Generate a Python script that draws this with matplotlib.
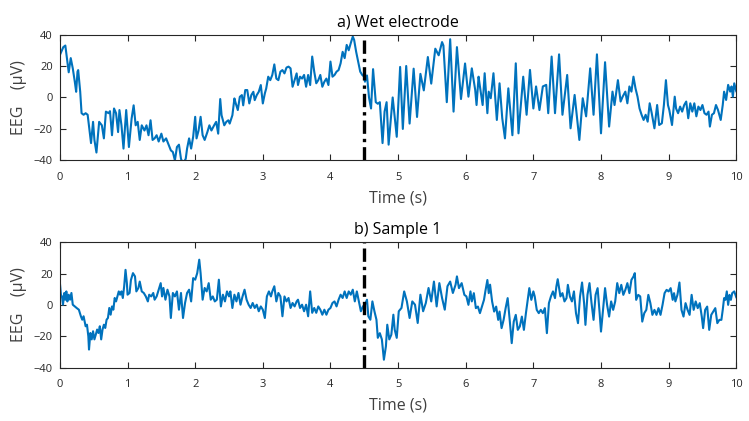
import matplotlib
matplotlib.use("Agg")
import matplotlib.pyplot as plt

# EEG traces, as (time, value) vertices
wet_t = [0.00, 0.05, 0.08, 0.11, 0.13, 0.16, 0.19, 0.22, 0.24, 0.26, 0.27, 0.30, 0.32, 0.35, 0.38,
         0.41, 0.44, 0.46, 0.49, 0.51, 0.54, 0.58, 0.62, 0.65, 0.68, 0.72, 0.74, 0.77, 0.80, 0.83,
         0.86, 0.88, 0.91, 0.94, 0.98, 1.00, 1.02, 1.06, 1.09, 1.12, 1.15, 1.18, 1.21, 1.25, 1.28,
         1.31, 1.34, 1.37, 1.40, 1.43, 1.46, 1.50, 1.53, 1.57, 1.61, 1.64, 1.67, 1.70, 1.73, 1.76,
         1.79, 1.82, 1.86, 1.88, 1.91, 1.94, 1.97, 2.00, 2.02, 2.05, 2.08, 2.11, 2.14, 2.18, 2.21,
         2.24, 2.28, 2.31, 2.34, 2.37, 2.39, 2.43, 2.46, 2.49, 2.51, 2.55, 2.58, 2.60, 2.63, 2.66,
         2.69, 2.71, 2.74, 2.77, 2.80, 2.83, 2.86, 2.88, 2.91, 2.94, 2.97, 3.00, 3.03, 3.05, 3.08,
         3.11, 3.14, 3.17, 3.20, 3.23, 3.26, 3.29, 3.32, 3.35, 3.38, 3.41, 3.44, 3.47, 3.50, 3.52,
         3.55, 3.58, 3.61, 3.64, 3.67, 3.70, 3.73, 3.76, 3.79, 3.82, 3.85, 3.88, 3.91, 3.94, 3.97,
         4.00, 4.03, 4.06, 4.09, 4.12, 4.15, 4.18, 4.21, 4.24, 4.27, 4.30, 4.33, 4.35, 4.38, 4.41,
         4.44, 4.47, 4.50, 4.51, 4.54, 4.57, 4.60, 4.63, 4.67, 4.70, 4.73, 4.77, 4.80, 4.83, 4.86,
         4.92, 4.98, 5.03, 5.07, 5.12, 5.17, 5.23, 5.28, 5.33, 5.38, 5.44, 5.49, 5.55, 5.60, 5.65,
         5.67, 5.72, 5.77, 5.82, 5.87, 5.93, 5.99, 6.04, 6.09, 6.14, 6.16, 6.19, 6.21, 6.25, 6.28,
         6.32, 6.34, 6.37, 6.41, 6.46, 6.50, 6.54, 6.58, 6.63, 6.69, 6.74, 6.78, 6.85, 6.90, 6.95,
         7.00, 7.04, 7.09, 7.14, 7.19, 7.22, 7.27, 7.32, 7.38, 7.43, 7.50, 7.55, 7.61, 7.68, 7.73,
         7.78, 7.84, 7.89, 7.94, 8.00, 8.06, 8.12, 8.17, 8.20, 8.25, 8.29, 8.32, 8.36, 8.39, 8.42,
         8.45, 8.48, 8.51, 8.54, 8.57, 8.60, 8.63, 8.66, 8.69, 8.72, 8.75, 8.79, 8.83, 8.86, 8.90,
         8.93, 8.96, 8.99, 9.01, 9.05, 9.09, 9.11, 9.14, 9.17, 9.20, 9.23, 9.26, 9.29, 9.32, 9.35,
         9.38, 9.41, 9.44, 9.47, 9.50, 9.53, 9.56, 9.59, 9.61, 9.64, 9.67, 9.70, 9.73, 9.77, 9.80,
         9.82, 9.85, 9.88, 9.91, 9.93, 9.95, 9.97, 10.00]
wet_v = [27, 32, 33, 23, 16, 25, 18.5, 10, 3.6, 16.4, 17.4, 3.6, -10, -11, -10,
         -11, -22, -29, -15.5, -27, -35, -15.5, -17.7, -26, -9, -10, -8.7, -24, -7, -10,
         -22, -8, -17.7, -32.5, -8, -20, -31.5, -13.4, -5, -17.7, -15.5, -27, -17.7, -21, -17.7,
         -24, -14.5, -27, -26, -24, -28, -23, -28, -26, -30.4, -33.6, -34.7, -40, -31.5, -30,
         -39, -42, -39, -32.5, -26, -32.5, -25, -12.3, -26, -21, -12.3, -24, -27, -22, -17.7,
         -21, -17.7, -15.5, -23, -1, -11.3, -17.7, -15.5, -14.5, -16.6, -11.3, -0.6, -3.8, -8, 0.4,
         1.5, -5, 4.7, 4.7, -3.8, 1.5, 3.6, -1.7, 1.5, 3.6, 7.9, -3.8, 2.6, 5.7, 13.2,
         11, 14.3, 21, 12, 11, 16.4, 17.4, 15.3, 19, 19.6, 18.5, 6.8, 11, 15.3, 7.9,
         13.2, 12, 14.3, 6.8, 14.3, 7.9, 26, 16.4, 9, 11, 14.3, 6.8, 10, 12, 7.9,
         22.8, 13.2, 14.3, 16.4, 17.4, 21.7, 29, 25, 33.4, 30, 34.5, 38.7, 36.6, 29, 22.8,
         16.4, 14.3, 13.2, 10, 14, 0, -7, 18, -3, -4, -3, -29, -9, -3, -30,
         0, -25, 19.4, -20, 20, -16.6, 18.3, -12.4, 15, 4.5, 25.7, 8.8, 31, 26.8, 35.2,
         33, -3, 37, -9, 32, -1, 21.6, 0.5, 18.5, 4.8, -4.8, 13.2, 7, -4.8, 15.4,
         -10, 3.7, -0.5, 15.4, -14.3, 9, -13.2, -26, 5.8, -24, 21.7, -22.8, 13.2, -11, 17.5,
         -7, 7, -8, 7, 8, -10, 26, -10, 27.4, -11, 14.3, -19.6, 1.6, -27, -0.5,
         -12, 18.5, -11, 27.4, -22.8, 22.4, -18.5, 3.7, -4.8, 11, -2.6, 0.5, 3.7, -3.7, 7,
         3.7, 13.2, 5.8, 0.5, -7, -11, -14.3, -11, -15.4, -3.7, -10, -19.6, -4.8, -17.5, -16.4,
         -4.8, 11, -4.8, -8, -17.5, 0.5, -7, -10, -5.8, -9, -4.8, -2.6, -13.2, -3.7, -9,
         -3.7, -12, -5.8, -8, -4.8, -10, -11, -9, -18.5, -11, -10, -4.8, -8, -14.3, -4.8,
         3.7, -1.6, 8, 3.7, 7, 0.5, 9, 4]

sample_t = [0.00, 0.015, 0.03, 0.045, 0.065, 0.08, 0.095, 0.11, 0.13, 0.15, 0.17, 0.19, 0.22, 0.25, 0.28,
            0.31, 0.33, 0.35, 0.38, 0.40, 0.42, 0.43, 0.45, 0.47, 0.49, 0.51, 0.53, 0.55, 0.57, 0.59,
            0.61, 0.63, 0.65, 0.67, 0.69, 0.71, 0.73, 0.75, 0.77, 0.79, 0.81, 0.83, 0.85, 0.87, 0.89,
            0.91, 0.93, 0.95, 0.97, 0.99, 1.00, 1.03, 1.05, 1.08, 1.11, 1.13, 1.16, 1.18, 1.21, 1.24,
            1.27, 1.30, 1.32, 1.35, 1.38, 1.40, 1.43, 1.46, 1.49, 1.51, 1.53, 1.56, 1.59, 1.62, 1.64,
            1.67, 1.70, 1.73, 1.76, 1.79, 1.82, 1.85, 1.88, 1.91, 1.94, 1.97, 2.00, 2.03, 2.06, 2.08,
            2.11, 2.14, 2.17, 2.20, 2.23, 2.26, 2.29, 2.32, 2.35, 2.38, 2.41, 2.44, 2.47, 2.50, 2.52,
            2.55, 2.58, 2.61, 2.64, 2.67, 2.70, 2.73, 2.76, 2.79, 2.82, 2.85, 2.88, 2.91, 2.94, 2.97,
            3.00, 3.03, 3.06, 3.09, 3.12, 3.14, 3.17, 3.20, 3.23, 3.26, 3.29, 3.32, 3.35, 3.38, 3.41,
            3.44, 3.47, 3.50, 3.52, 3.55, 3.58, 3.61, 3.64, 3.67, 3.70, 3.73, 3.76, 3.79, 3.82, 3.85,
            3.88, 3.91, 3.94, 3.97, 4.00, 4.03, 4.06, 4.09, 4.12, 4.15, 4.18, 4.21, 4.24, 4.27, 4.30,
            4.33, 4.36, 4.39, 4.42, 4.45, 4.48, 4.51, 4.54, 4.56, 4.59, 4.62, 4.65, 4.68, 4.70, 4.73,
            4.76, 4.79, 4.82, 4.84, 4.87, 4.90, 4.93, 4.95, 4.98, 5.01, 5.05, 5.09, 5.13, 5.17, 5.21,
            5.25, 5.29, 5.33, 5.37, 5.41, 5.45, 5.49, 5.53, 5.57, 5.61, 5.65, 5.69, 5.73, 5.77, 5.81,
            5.85, 5.87, 5.90, 5.94, 5.98, 6.01, 6.04, 6.07, 6.09, 6.12, 6.15, 6.18, 6.21, 6.24, 6.27,
            6.29, 6.32, 6.34, 6.36, 6.39, 6.42, 6.45, 6.48, 6.50, 6.53, 6.56, 6.59, 6.62, 6.65, 6.68,
            6.71, 6.74, 6.77, 6.80, 6.83, 6.86, 6.89, 6.92, 6.94, 6.97, 7.00, 7.02, 7.05, 7.08, 7.11,
            7.14, 7.17, 7.20, 7.23, 7.26, 7.29, 7.32, 7.34, 7.36, 7.40, 7.43, 7.46, 7.49, 7.51, 7.54,
            7.57, 7.60, 7.63, 7.66, 7.69, 7.72, 7.75, 7.77, 7.80, 7.83, 7.86, 7.89, 7.92, 7.95, 7.98,
            8.00, 8.03, 8.06, 8.09, 8.12, 8.15, 8.18, 8.21, 8.24, 8.27, 8.30, 8.33, 8.36, 8.39, 8.42,
            8.45, 8.48, 8.50, 8.52, 8.55, 8.58, 8.61, 8.64, 8.67, 8.70, 8.73, 8.76, 8.79, 8.82, 8.85,
            8.88, 8.91, 8.94, 8.97, 9.00, 9.03, 9.06, 9.08, 9.10, 9.13, 9.16, 9.19, 9.22, 9.25, 9.28,
            9.31, 9.34, 9.37, 9.40, 9.43, 9.46, 9.49, 9.51, 9.54, 9.57, 9.60, 9.63, 9.66, 9.69, 9.72,
            9.75, 9.78, 9.80, 9.82, 9.84, 9.86, 9.88, 9.90, 9.92, 9.94, 9.97, 10.00]
sample_v = [14, 6.6, 5.5, 0.2, 7.7, 3.4, 8.7, 2.3, 6.6, 3.4, 7.7, 0.2, -0.9, -2, -3,
            -7.2, -9.4, -7.2, -13.6, -12.6, -20, -28.5, -17.9, -22, -16.8, -22, -19, -15.7, -17.9, -13.6,
            -22, -15.7, -12.6, -14.7, -9.4, -8.3, -1.9, -6.2, -0.9, -3, 4.5, 2.3, 5.5, 8.7, 6.6,
            8.7, 4.5, 12, 22.5, 14, 6.6, 7.7, 16, 20.4, 18.3, 8.7, 10.9, 15, 8.7, 7.7,
            5.5, 2.3, 6.6, 5.5, 7.7, 3.4, 5.5, 9.8, 14, 5.5, 10.9, 3.4, 9.8, 5.5, -8.3,
            7.7, 5.5, 8.7, -3, 7.7, -8.3, 1.3, 7.7, 9.8, 2.3, 17.2, 16.2, 20.4, 29, 20.4,
            3.4, 10.9, 8.7, 14, 3.4, 5.5, 2.3, 3.4, 16.2, -0.9, 6.6, 2.3, 8.7, 5.5, 8.7,
            -1.9, 6.6, 2.3, 7.7, 0.2, 5.5, 9.8, 3.4, 0.2, -1.9, 1.3, -1.9, 0.2, -4, -0.9,
            -3, -8.3, 5.5, 8.7, 5.5, 8.7, 12, 2.3, 7.7, 5.5, -7.2, 5.5, 2.3, 4.5, -1.9,
            1.3, -0.9, 2.3, 3.4, -1.9, 0.2, -4, 0.2, -7.2, 8.7, -5, -1.9, -5, -0.9, -3,
            -6.2, -3, -6.2, -3, -1.9, 1.3, 2.3, -0.9, 3.4, 6.6, 4.5, 8.7, 4.5, 8.7, 6.6,
            9.8, 2.3, 8.7, 2.3, -4, -0.9, 0.2, 3.4, -7.2, -9.4, 2.3, -4, -9.4, -21, -18,
            -22, -35, -26.4, -12.6, -22, -19, -6.2, -15.8, -21, -4, -1.9, 8.7, 2.3, -8.3, 2.3,
            0.2, -11.5, 6.6, -4, 1.3, 10.9, 2.3, 15, -0.9, 14, 4.5, -3, 12, 15, 7.7,
            13, 18.3, 10.8, 14, 6.5, 5.5, 0.1, 8.7, 2.3, 7.6, -2, -1, -5.2, -1, 3.3,
            8.7, 16, 7.6, 13, 2.3, -4.2, -1, -9.5, -4.2, -14.8, -9.5, -2, 4.4, -9.5, -24.4,
            -10.6, -6.3, -15.9, -13.7, -7.4, -15.9, -5.2, 4.4, 10.8, 3.3, 8.7, 5.5, -3.1, -5.2, -3.1,
            -5.2, -2, -18, 1.2, 5.5, 8.7, 4.4, 11.8, 16.5, 5.5, 7.6, 2.3, 4.4, 12.9, 5.5,
            2.3, 8.7, -5.2, -11.6, 5.5, 14.4, 1.2, -12.7, 6.5, 14, 1.2, -9.5, 6.5, 10.8, -5.2,
            -17, -3.1, 10.8, 0.1, -7.4, 2.3, -3.1, 2.3, 14, 7.6, 12.9, 6.5, 9.7, 14, 7.6,
            16.1, 18.2, 20.4, 3.3, 6.5, 5.5, -10.6, -5.2, -3.1, 6.5, 1.2, -6.3, -3.1, -6.3, -2,
            -6.3, 0.1, 7.6, 9.7, 8.7, 10.8, 3.3, 7.6, 2.3, 6.5, 14.4, -3.1, -7.4, 1.2, -3.1,
            -6.3, 6.5, -3.1, 2.3, -2, 1.2, -7.4, -14.8, -3.1, -1, -15.9, -6.3, -4.2, -2, -11.6,
            -9.5, -9.5, -3.1, 4.4, 3.3, 8.7, 0.1, 6.5, 3.3, 7.6, 8.7, 5]

event_time = 4.5
panels = [("a) Wet electrode", wet_t, wet_v), ("b) Sample 1", sample_t, sample_v)]
xticks = list(range(0, 11))
yticks = [-40, -20, 0, 20, 40]

line_color = "#0072BD"
text_color = "#262626"
font = ["Open Sans", "DejaVu Sans"]

fig = plt.figure(figsize=(7.49, 4.21), dpi=100)
positions = [[0.080, 0.619, 0.903, 0.299], [0.080, 0.127, 0.903, 0.297]]

for (title, t, v), pos in zip(panels, positions):
    ax = fig.add_axes(pos)
    ax.plot(t, v, color=line_color, linewidth=1.5, solid_joinstyle="round")
    ax.axvline(event_time, color="black", linestyle=(0, (4, 1.5, 1, 1.5)), linewidth=2.4)
    ax.set_xlim(0, 10)
    ax.set_ylim(-40, 40)
    ax.set_xticks(xticks)
    ax.set_yticks(yticks)
    ax.tick_params(direction="in", length=4, width=0.8, top=True, right=True,
                   colors=text_color, labelsize=8, labelcolor=text_color)
    ax.tick_params(axis="x", pad=8)
    ax.tick_params(axis="y", pad=5)
    for lbl in ax.get_xticklabels() + ax.get_yticklabels():
        lbl.set_family(font)
    for sp in ax.spines.values():
        sp.set_color(text_color)
        sp.set_linewidth(0.8)
    ax.set_title(title, fontsize=11.5, family=font, color="black", pad=6)
    ax.set_xlabel("Time (s)", fontsize=11.5, family=font, color="#404040", labelpad=6)
    ax.set_ylabel("EEG    (\u03bcV)", fontsize=11.5, family=font, color="#404040", labelpad=5)

fig.savefig("out.png", dpi=100)
